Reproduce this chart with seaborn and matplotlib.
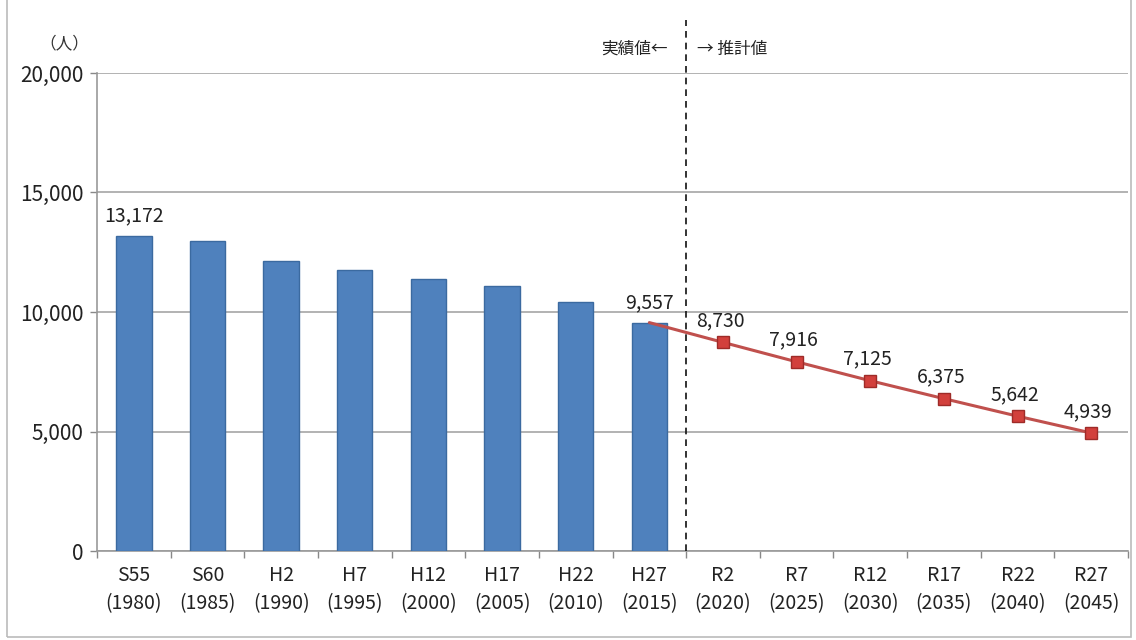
import numpy as np
import pandas as pd
import matplotlib
matplotlib.use("Agg")
import matplotlib.pyplot as plt
import seaborn as sns

# Period labels (Japanese era + western year)
eras = ["S55", "S60", "H2", "H7", "H12", "H17", "H22", "H27",
        "R2", "R7", "R12", "R17", "R22", "R27"]
years = ["1980", "1985", "1990", "1995", "2000", "2005", "2010", "2015",
         "2020", "2025", "2030", "2035", "2040", "2045"]

# Observed population (bars)
actual_eras = ["S55", "S60", "H2", "H7", "H12", "H17", "H22", "H27"]
actual_values = [13172, 12960, 12120, 11740, 11360, 11080, 10400, 9557]

# Projected population (line, starting from the last observed point)
proj_eras = ["H27", "R2", "R7", "R12", "R17", "R22", "R27"]
proj_values = [9557, 8730, 7916, 7125, 6375, 5642, 4939]

labeled_bars = ["S55", "H27"]

sns.set_theme(style="white")
plt.rcParams["font.family"] = ["Noto Sans CJK JP", "DejaVu Sans"]

fig = plt.figure(figsize=(11.36, 6.4), dpi=100)
ax = fig.add_axes([0.0854, 0.139, 0.9076, 0.747])

bar_df = pd.DataFrame({"era": actual_eras, "value": actual_values})
sns.barplot(data=bar_df, x="era", y="value", order=eras, ax=ax,
            color="#4F81BD", width=0.48, saturation=1,
            edgecolor="#3B6AA0", linewidth=1.0, zorder=3)

pos = {e: i for i, e in enumerate(eras)}
line_df = pd.DataFrame({"x": [pos[e] for e in proj_eras], "value": proj_values})
sns.lineplot(data=line_df, x="x", y="value", ax=ax, color="#C0504D",
             linewidth=2.2, zorder=4)
ax.plot(line_df["x"][1:], line_df["value"][1:], linestyle="none",
        marker="s", markersize=9, markerfacecolor="#D2403C",
        markeredgecolor="#9E2B28", markeredgewidth=1.0, zorder=5)

# value labels
for e, v in zip(actual_eras, actual_values):
    if e in labeled_bars:
        ax.annotate(f"{v:,}", (pos[e], v), xytext=(0, 7), textcoords="offset points",
                    ha="center", va="bottom", fontsize=14, color="#222222")
for x, v in zip(line_df["x"][1:], line_df["value"][1:]):
    ax.annotate(f"{v:,}", (x, v), xytext=(-2, 8), textcoords="offset points",
                ha="center", va="bottom", fontsize=14, color="#222222")

# axes styling
ax.set_xlim(-0.5, len(eras) - 0.5)
ax.set_ylim(0, 20000)
ax.set_yticks([0, 5000, 10000, 15000, 20000])
ax.set_yticklabels([f"{t:,}" for t in [0, 5000, 10000, 15000, 20000]], fontsize=15)
ax.set_xticks(range(len(eras)))
ax.set_xticklabels([f"{e}\n({y})" for e, y in zip(eras, years)], fontsize=14,
                   linespacing=1.45)
ax.set_xticks(np.arange(-0.5, len(eras), 1.0), minor=True)
ax.tick_params(axis="x", which="major", length=0, pad=10, colors="#222222")
ax.tick_params(axis="x", which="minor", length=5, width=1, color="#888888",
               direction="out", bottom=True)
ax.tick_params(axis="y", which="major", length=5, width=1, color="#888888",
               direction="out", left=True, pad=5, colors="#222222")
ax.tick_params(axis="y", which="major", color="#888888")
ax.set_xlabel("")
ax.set_ylabel("")
ax.yaxis.grid(True, color="#A6A6A6", linewidth=1.2, zorder=0)
ax.set_axisbelow(True)
for side in ["top", "right"]:
    ax.spines[side].set_visible(False)
for side in ["left", "bottom"]:
    ax.spines[side].set_color("#999999")
    ax.spines[side].set_linewidth(1.2)

# divider between observed and projected values
ax.plot([7.5, 7.5], [0, 22200], color="#111111", linestyle=(0, (4, 3)),
        linewidth=1.2, clip_on=False, zorder=6)
ax.text(7.25, 21000, "実績値←", ha="right", va="center", fontsize=12,
        color="#222222")
ax.text(7.65, 21000, "→ 推計値", ha="left", va="center", fontsize=12,
        color="#222222")
fig.text(0.057, 0.931, "（人）", ha="center", va="center", fontsize=12,
         color="#333333")

# chart border
fig.patches.append(plt.Rectangle((0.006, 0.004), 0.99, 1.2, transform=fig.transFigure,
                                 fill=False, edgecolor="#BBBBBB", linewidth=1.2))

fig.savefig("out.png", dpi=100, facecolor="white")
